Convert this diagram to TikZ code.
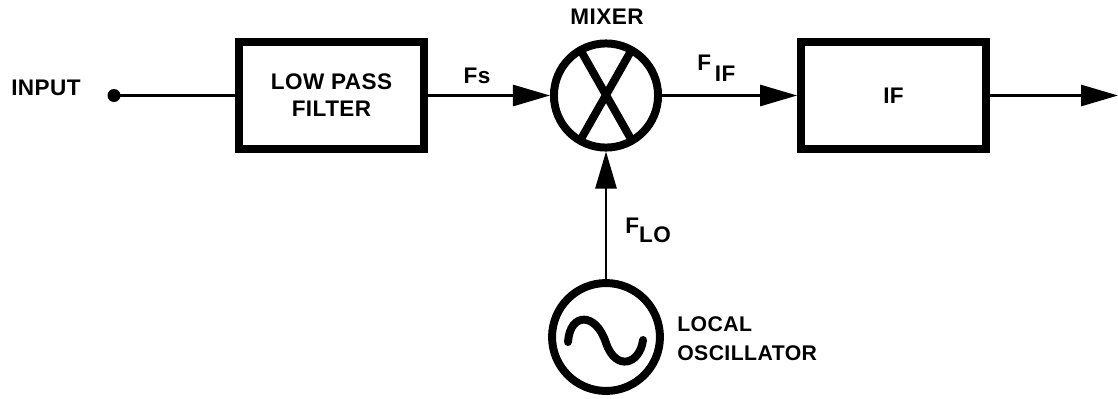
\documentclass[tikz,border=0pt]{standalone}
\usepackage{fontspec}
\setmainfont{Liberation Sans}[LetterSpace=2]
\usetikzlibrary{arrows.meta,positioning}
\tikzset{
  blk/.style={draw, line width=6pt, minimum width=4.9cm, minimum height=2.84cm, align=center, font=\fontsize{17}{20.4}\selectfont\bfseries},
  rnd/.style={draw, circle, line width=6pt, inner sep=0pt},
  sig/.style={-{Triangle[length=0.98cm,width=0.56cm]}, line width=1.8pt},
  thk/.style={line width=6pt},
  lbl/.style={font=\fontsize{17}{17}\selectfont\bfseries, align=left, inner sep=0pt},
}
\begin{document}
\begin{tikzpicture}[x=0.0265cm,y=-0.0265cm]
  \useasboundingbox (0,0) rectangle (1118,398);
  % --- input side ---
  \coordinate (indot) at (114,95.5);
  \fill (indot) circle (6.5);
  \node[lbl,anchor=west] (input) at (11,88) {INPUT};
  \node[blk] (lpf) at (331.5,95.5) {LOW PASS\\FILTER};
  \draw[line width=1.8pt] (indot) -- (lpf);

  % --- mixer ---
  \node[rnd,minimum size=2.76cm] (mixer) at (606,95.5) {};
  \coordinate (xa) at (581,51);
  \coordinate (xb) at (631,139);
  \coordinate (xc) at (631,51);
  \coordinate (xd) at (581,139);
  \draw[thk] (xa) -- (xb);
  \draw[thk] (xc) -- (xd);
  \node[lbl] (mixlbl) at (607,17) {MIXER};
  \draw[sig] (lpf) -- (mixer);
  \node[lbl] (fs) at (477,76) {Fs};

  % --- IF ---
  \node[blk] (ifblk) at (893.5,95.5) {IF};
  \draw[sig] (mixer) -- (ifblk);
  \node[lbl,anchor=west] (fif) at (697,68) {F\raisebox{-8pt}{\,IF}};
  \coordinate (out) at (1118,95.5);
  \draw[sig] (ifblk) -- (out);

  % --- local oscillator ---
  \node[rnd,minimum size=2.86cm] (lo) at (606,337) {};
  \coordinate (wa) at (568,342);
  \coordinate (wb) at (606,343);
  \coordinate (wc) at (643,340);
  \draw[thk,line cap=round] (wa) .. controls (570,312) and (596,312) .. (wb)
    .. controls (616,372) and (640,364) .. (wc);
  \draw[sig] (lo) -- (mixer);
  \node[lbl,anchor=west] (flo) at (625,230) {F\raisebox{-7pt}{LO}};
  \node[lbl,anchor=north west,font=\fontsize{16}{22}\selectfont\bfseries] (lolbl) at (677,316) {LOCAL\\OSCILLATOR};
\end{tikzpicture}
\end{document}
